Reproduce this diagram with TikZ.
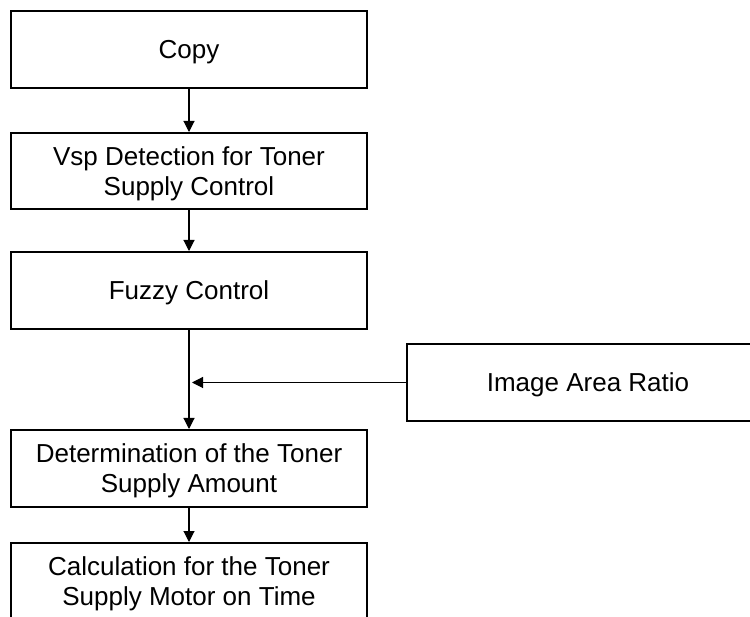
\documentclass[tikz,border=0pt]{standalone}
\usepackage{fontspec}
\setmainfont{Liberation Sans}
\usetikzlibrary{arrows.meta}
\begin{document}
\begin{tikzpicture}[x=1pt,y=-1pt,
  stepbox/.style={draw, line width=2pt, minimum width=356pt, minimum height=77pt,
    inner sep=0pt, align=center, text depth=0pt,
    font=\fontsize{26pt}{30pt}\selectfont},
  flow/.style={line width=1.1pt, -{Triangle[length=11pt,width=11pt]}}]
  \useasboundingbox (0,0) rectangle (750,617);
  \clip (0,0) rectangle (750,617);
  \fill[white] (0,0) rectangle (750,617);

  \node[stepbox] (copy) at (189,49.5) {Copy};
  \node[stepbox, minimum height=76pt] (vsp) at (189,171) {Vsp Detection for Toner\\Supply Control};
  \node[stepbox] (fuzzy) at (189,290.5) {Fuzzy Control};
  \node[stepbox] (amount) at (189,468.5) {Determination of the Toner\\Supply Amount};
  \node[stepbox] (calc) at (189,581.5) {Calculation for the Toner\\Supply Motor on Time};
  \node[stepbox, minimum width=362pt] (ratio) at (588,382.5) {Image Area Ratio};

  \coordinate (join) at (192,382.5);

  \draw[flow] (copy) -- (vsp);
  \draw[flow] (vsp) -- (fuzzy);
  \draw[flow] (fuzzy) -- (amount);
  \draw[flow] (ratio.west) -- (join);
  \draw[flow] (amount) -- (calc);
\end{tikzpicture}
\end{document}
